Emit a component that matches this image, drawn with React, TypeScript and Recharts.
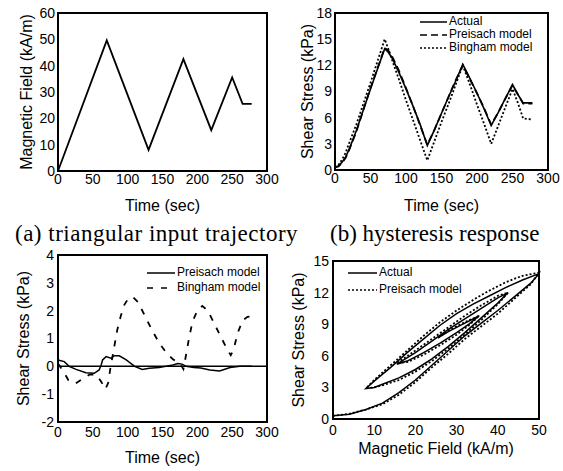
import React from "react";
import {
  LineChart,
  Line,
  XAxis,
  YAxis,
  ReferenceLine,
  Legend,
} from "recharts";

// (a) triangular input: magnetic field vs time
const fieldTime = [0, 70, 130, 180, 220, 250, 265, 278];
const fieldValue = [0, 49.6, 8, 42.5, 15.5, 35.5, 25.5, 25.5];

// (b) shear stress vs time
const stressTime = [
  0, 5, 10, 15, 20, 30, 40, 50, 60, 70, 75, 80, 90, 100, 110, 120, 130, 140,
  150, 160, 170, 180, 190, 200, 210, 220, 230, 240, 250, 258, 265, 278,
];
const actualStress = [
  0.3, 0.5, 0.9, 1.5, 2.4, 4.5, 6.9, 9.3, 11.6, 13.9, 13.5, 12.9, 11.2, 9.3,
  7.3, 5.2, 2.8, 4.6, 6.5, 8.4, 10.2, 12.1, 10.5, 8.8, 7.0, 5.1, 6.6, 8.2, 9.8,
  8.6, 7.7, 7.7,
];
const preisachStress = [
  0.3, 0.4, 0.8, 1.4, 2.3, 4.4, 6.9, 9.4, 11.7, 14.0, 13.7, 13.1, 11.4, 9.4,
  7.3, 5.1, 2.9, 4.6, 6.5, 8.4, 10.3, 12.0, 10.4, 8.8, 7.1, 5.2, 6.6, 8.2, 9.7,
  8.6, 7.6, 7.6,
];
const binghamStress = [
  0.3, 0.6, 1.2, 2.0, 3.1, 5.2, 7.6, 10.0, 12.5, 15.0, 13.9, 12.7, 10.4, 8.0,
  5.7, 3.4, 1.1, 3.3, 5.5, 7.6, 9.8, 12.0, 9.8, 7.5, 5.3, 3.0, 5.1, 7.2, 9.3,
  7.6, 5.9, 5.8,
];

// (c) model errors vs time
const preisachErrTime = [
  0, 9, 16, 26, 40, 52, 59, 62, 64, 69, 76, 81, 88, 98, 110, 121, 131, 145,
  155, 165, 172, 178, 184, 195, 205, 218, 232, 247, 261, 278,
];
const preisachErr = [
  0.23, 0.17, 0.0, -0.11, -0.23, -0.25, -0.13, 0.05, 0.23, 0.35, 0.29, 0.38,
  0.38, 0.23, 0.0, -0.11, -0.07, -0.04, 0.0, 0.05, 0.1, 0.08, 0.0, -0.04, -0.06,
  -0.13, -0.17, -0.04, 0.0, 0.0,
];
const binghamErrTime = [
  0, 8, 15, 25, 35, 45, 55, 62, 68, 72, 75, 80, 85, 90, 95, 100, 107, 115, 125,
  135, 145, 155, 165, 175, 180, 183, 188, 193, 200, 207, 215, 225, 235, 243,
  248, 252, 258, 265, 272, 278,
];
const binghamErr = [
  0.1, -0.2, -0.5, -0.62, -0.45, -0.3, -0.3, -0.55, -0.82, -0.6, -0.1, 0.6,
  1.3, 1.8, 2.2, 2.4, 2.5, 2.3, 1.8, 1.3, 0.85, 0.5, 0.25, 0.1, -0.1, 0.3, 1.0,
  1.6, 2.0, 2.17, 2.0, 1.5, 1.0, 0.6, 0.4, 0.6, 1.2, 1.65, 1.78, 1.8,
];

// (d) hysteresis loops: shear stress vs magnetic field
const loopActualField = [
  0, 4, 8, 12, 16, 20, 24, 28, 32, 36, 40, 44, 48, 50,
  46, 42, 38, 34, 30, 26, 22, 18, 14, 10, 8,
  10, 12, 16, 20, 24, 28, 32, 36, 40, 42.5,
  40, 36, 32, 28, 24, 20, 15.5,
  18, 22, 26, 30, 33, 35.5,
  32, 28, 25.5,
];
const loopActualStress = [
  0.3, 0.45, 0.9, 1.5, 2.5, 3.7, 5.1, 6.5, 7.9, 9.1, 10.3, 11.6, 12.9, 13.8,
  13.2, 12.5, 11.7, 10.9, 10.0, 8.9, 7.6, 6.3, 4.9, 3.6, 2.9,
  3.0, 3.3, 3.9, 4.7, 5.7, 6.9, 8.2, 9.6, 11.0, 12.0,
  11.5, 10.5, 9.5, 8.5, 7.4, 6.3, 5.2,
  5.5, 6.3, 7.2, 8.2, 9.0, 9.8,
  9.1, 8.3, 7.7,
];
const loopPreisachField = [
  0, 4, 8, 12, 16, 20, 24, 28, 32, 36, 40, 44, 48, 50,
  46, 42, 38, 34, 30, 26, 22, 18, 14, 10, 8,
  10, 12, 16, 20, 24, 28, 32, 36, 40, 42.5,
  40, 36, 32, 28, 24, 20, 15.5,
  18, 22, 26, 30, 33, 35.5,
  32, 28, 25.5,
];
const loopPreisachStress = [
  0.3, 0.5, 0.9, 1.4, 2.3, 3.5, 4.9, 6.2, 7.6, 8.8, 10.0, 11.4, 12.8, 13.9,
  13.6, 13.0, 12.2, 11.3, 10.3, 9.2, 7.9, 6.5, 5.1, 3.7, 2.9,
  3.0, 3.2, 3.7, 4.5, 5.5, 6.7, 8.0, 9.4, 10.9, 12.0,
  11.7, 10.8, 9.8, 8.7, 7.6, 6.5, 5.3,
  5.4, 6.1, 7.0, 8.0, 8.9, 9.8,
  9.2, 8.4, 7.7,
];

const timeTicks = [0, 50, 100, 150, 200, 250, 300];
const fieldTicks = [0, 10, 20, 30, 40, 50, 60];
const stressTicks = [0, 3, 6, 9, 12, 15, 18];
const errTicks = [-2, -1, 0, 1, 2, 3, 4];
const loopFieldTicks = [0, 10, 20, 30, 40, 50];
const loopStressTicks = [0, 3, 6, 9, 12, 15];

const zip = (xs: number[], ys: number[], xk: string, yk: string) =>
  xs.map((x, i) => ({ [xk]: x, [yk]: ys[i] }));

const font = '"Liberation Sans", Arial, Helvetica, sans-serif';
const ink = "#000";
const tick = { fontSize: 14, fill: ink, fontFamily: font };
const axisLine = { stroke: ink, strokeWidth: 2 };

const yTitle = (value: string, offset: number) => ({
  value,
  angle: -90,
  position: "insideLeft" as const,
  offset,
  fontSize: 16,
  fill: ink,
  fontFamily: font,
  style: { textAnchor: "middle" as const },
});

const xTitle = (value: string, offset: number) => ({
  value,
  position: "insideBottom" as const,
  offset,
  fontSize: 16,
  fill: ink,
  fontFamily: font,
});

type Item = { name: string; dash?: string };

function LegendBox({ items, lineLen, rowH }: { items: Item[]; lineLen: number; rowH: number }) {
  return (
    <div style={{ fontFamily: font, fontSize: 12, color: ink, whiteSpace: "nowrap" }}>
      {items.map((it) => (
        <div key={it.name} style={{ display: "flex", alignItems: "center", height: rowH }}>
          <svg width={lineLen} height={6} style={{ display: "block" }}>
            <line x1={0} y1={3} x2={lineLen} y2={3} stroke={ink} strokeWidth={1.5} strokeDasharray={it.dash} />
          </svg>
          <span style={{ marginLeft: 2, lineHeight: `${rowH}px` }}>{it.name}</span>
        </div>
      ))}
    </div>
  );
}

type Layout = {
  left: number;
  top: number;
  width: number;
  height: number;
  margin: { top: number; right: number; bottom: number; left: number };
  yWidth: number;
  xHeight: number;
};

// box round the plot area, taken from the chart's own margins and axis sizes
function Frame({ l }: { l: Layout }) {
  const x = l.left + l.margin.left + l.yWidth;
  const y = l.top + l.margin.top;
  const w = l.width - l.margin.left - l.margin.right - l.yWidth;
  const h = l.height - l.margin.top - l.margin.bottom - l.xHeight;
  return (
    <div
      style={{
        position: "absolute",
        zIndex: 5,
        left: x - 1,
        top: y - 1,
        width: w + 2,
        height: h + 2,
        boxSizing: "border-box",
        border: `2px solid ${ink}`,
        pointerEvents: "none",
      }}
    />
  );
}

const p1: Layout = { left: 0, top: 0, width: 280, height: 215, margin: { top: 13, right: 13, bottom: 0, left: 0 }, yWidth: 58, xHeight: 44 };
const p2: Layout = { left: 280, top: 0, width: 283, height: 215, margin: { top: 13, right: 15, bottom: 0, left: 0 }, yWidth: 55, xHeight: 45 };
const p3: Layout = { left: 0, top: 230, width: 280, height: 241, margin: { top: 25, right: 13, bottom: 0, left: 0 }, yWidth: 58, xHeight: 49 };
const p4: Layout = { left: 280, top: 230, width: 283, height: 241, margin: { top: 31, right: 24, bottom: 0, left: 0 }, yWidth: 53, xHeight: 52 };

const at = (l: Layout): React.CSSProperties => ({ position: "absolute", left: l.left, top: l.top });

const caption: React.CSSProperties = {
  position: "absolute",
  top: 222,
  fontFamily: '"Liberation Serif", "Times New Roman", serif',
  fontSize: 23,
  lineHeight: "23px",
  color: ink,
  whiteSpace: "nowrap",
};

export default function App() {
  const fieldData = zip(fieldTime, fieldValue, "t", "h");
  const actualData = zip(stressTime, actualStress, "t", "s");
  const preisachData = zip(stressTime, preisachStress, "t", "s");
  const binghamData = zip(stressTime, binghamStress, "t", "s");
  const preisachErrData = zip(preisachErrTime, preisachErr, "t", "e");
  const binghamErrData = zip(binghamErrTime, binghamErr, "t", "e");
  const loopActual = zip(loopActualField, loopActualStress, "h", "s");
  const loopPreisach = zip(loopPreisachField, loopPreisachStress, "h", "s");

  return (
    <div style={{ position: "absolute", left: 0, top: 0, width: 563, height: 471, background: "#fff", overflow: "hidden" }}>
      {/* (a) input */}
      <div style={at(p1)}>
        <LineChart width={p1.width} height={p1.height} margin={p1.margin}>
          <XAxis dataKey="t" type="number" domain={[0, 300]} ticks={timeTicks} height={p1.xHeight}
            tick={tick} tickLine={false} tickSize={1} tickMargin={2} axisLine={axisLine}
            label={xTitle("Time (sec)", 4)} />
          <YAxis type="number" domain={[0, 60]} ticks={fieldTicks} width={p1.yWidth}
            tick={tick} tickLine={false} tickSize={1} tickMargin={2} axisLine={axisLine}
            label={yTitle("Magnetic Field (kA/m)", 26)} />
          <Line data={fieldData} dataKey="h" stroke={ink} strokeWidth={1.8} dot={false} isAnimationActive={false} />
        </LineChart>
      </div>
      <Frame l={p1} />

      {/* (b) hysteresis response in time */}
      <div style={at(p2)}>
        <LineChart width={p2.width} height={p2.height} margin={p2.margin}>
          <XAxis dataKey="t" type="number" domain={[0, 300]} ticks={timeTicks} height={p2.xHeight}
            tick={tick} tickLine={false} tickSize={1} tickMargin={2} axisLine={axisLine}
            label={xTitle("Time (sec)", 4)} />
          <YAxis type="number" domain={[0, 18]} ticks={stressTicks} width={p2.yWidth}
            tick={tick} tickLine={false} tickSize={1} tickMargin={2} axisLine={axisLine}
            label={yTitle("Shear Stress (kPa)", 27)} />
          <Line data={binghamData} dataKey="s" name="Bingham model" stroke={ink} strokeWidth={1.8}
            strokeDasharray="2 2" dot={false} isAnimationActive={false} />
          <Line data={preisachData} dataKey="s" name="Preisach model" stroke={ink} strokeWidth={1.8}
            strokeDasharray="7 4" dot={false} isAnimationActive={false} />
          <Line data={actualData} dataKey="s" name="Actual" stroke={ink} strokeWidth={1.6}
            dot={false} isAnimationActive={false} />
          <Legend layout="vertical" align="center" verticalAlign="middle"
            wrapperStyle={{ top: 15, left: 140, width: "auto", height: "auto" }}
            content={() => (
              <LegendBox lineLen={27} rowH={13} items={[
                { name: "Actual" },
                { name: "Preisach model", dash: "7 4" },
                { name: "Bingham model", dash: "2 2" },
              ]} />
            )} />
        </LineChart>
      </div>
      <Frame l={p2} />

      {/* captions */}
      <div style={{ ...caption, left: 15, letterSpacing: 0.5 }}>(a) triangular input trajectory</div>
      <div style={{ ...caption, left: 330 }}>(b) hysteresis response</div>

      {/* (c) errors */}
      <div style={at(p3)}>
        <LineChart width={p3.width} height={p3.height} margin={p3.margin}>
          <XAxis dataKey="t" type="number" domain={[0, 300]} ticks={timeTicks} height={p3.xHeight}
            tick={tick} tickLine={false} tickSize={1} tickMargin={4} axisLine={axisLine}
            label={xTitle("Time (sec)", 8)} />
          <YAxis type="number" domain={[-2, 4]} ticks={errTicks} width={p3.yWidth}
            tick={tick} tickLine={false} tickSize={1} tickMargin={3} axisLine={axisLine}
            label={yTitle("Shear Stress (kPa)", 23)} />
          <ReferenceLine y={0} stroke={ink} strokeWidth={1.5} />
          <Line data={binghamErrData} dataKey="e" name="Bingham model" stroke={ink} strokeWidth={1.8}
            strokeDasharray="6 8" dot={false} isAnimationActive={false} />
          <Line data={preisachErrData} dataKey="e" name="Preisach model" stroke={ink} strokeWidth={1.5}
            dot={false} isAnimationActive={false} />
          <Legend layout="vertical" align="center" verticalAlign="middle"
            wrapperStyle={{ top: 35, left: 147, width: "auto", height: "auto" }}
            content={() => (
              <LegendBox lineLen={28} rowH={15} items={[
                { name: "Preisach model" },
                { name: "Bingham model", dash: "6 8" },
              ]} />
            )} />
        </LineChart>
      </div>
      <Frame l={p3} />

      {/* (d) hysteresis loops */}
      <div style={at(p4)}>
        <LineChart width={p4.width} height={p4.height} margin={p4.margin}>
          <XAxis dataKey="h" type="number" domain={[0, 50]} ticks={loopFieldTicks} height={p4.xHeight}
            tick={tick} tickLine={false} tickSize={1} tickMargin={5} axisLine={axisLine}
            label={xTitle("Magnetic Field (kA/m)", 17)} />
          <YAxis type="number" domain={[0, 15]} ticks={loopStressTicks} width={p4.yWidth}
            tick={tick} tickLine={false} tickSize={1} tickMargin={3} axisLine={axisLine}
            label={yTitle("Shear Stress (kPa)", 18)} />
          <Line data={loopPreisach} dataKey="s" name="Preisach model" stroke={ink} strokeWidth={1.8}
            strokeDasharray="2 2" dot={false} isAnimationActive={false} />
          <Line data={loopActual} dataKey="s" name="Actual" stroke={ink} strokeWidth={1.5}
            dot={false} isAnimationActive={false} />
          <Legend layout="vertical" align="center" verticalAlign="middle"
            wrapperStyle={{ top: 34, left: 68, width: "auto", height: "auto" }}
            content={() => (
              <LegendBox lineLen={29} rowH={17} items={[
                { name: "Actual" },
                { name: "Preisach model", dash: "2 2" },
              ]} />
            )} />
        </LineChart>
      </div>
      <Frame l={p4} />
    </div>
  );
}
